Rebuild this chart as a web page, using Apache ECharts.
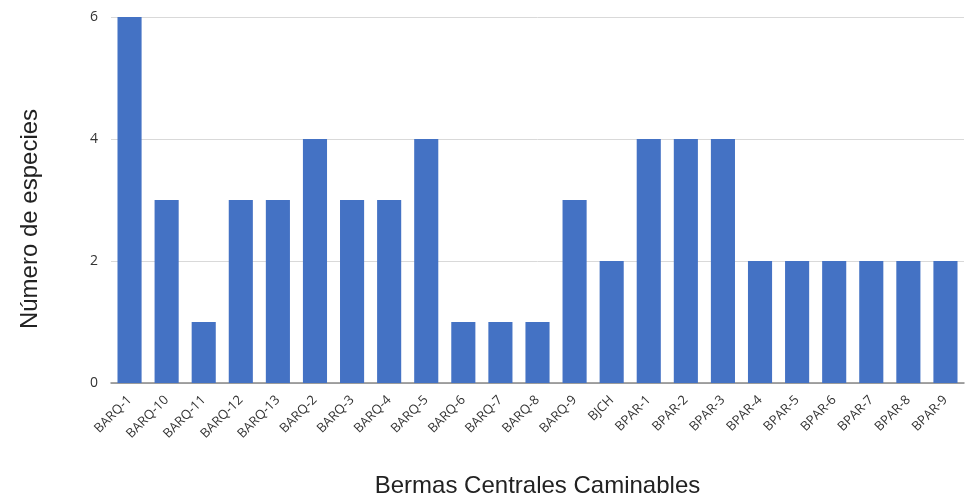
<!DOCTYPE html>
<html><head><meta charset="utf-8">
<script src="https://cdn.jsdelivr.net/npm/echarts@6/dist/echarts.min.js"></script>
<style>html,body{margin:0;padding:0;background:#fff}#c{width:968px;height:496px}</style>
</head><body><div id="c"></div>
<script>
const categories = ["BARQ-1","BARQ-10","BARQ-11","BARQ-12","BARQ-13","BARQ-2","BARQ-3","BARQ-4","BARQ-5","BARQ-6","BARQ-7","BARQ-8","BARQ-9","BJCH","BPAR-1","BPAR-2","BPAR-3","BPAR-4","BPAR-5","BPAR-6","BPAR-7","BPAR-8","BPAR-9"];
const especies = [6,3,1,3,3,4,3,3,4,1,1,1,3,2,4,4,4,2,2,2,2,2,2];
const yTicks = [0,2,4,6];
const chart = echarts.init(document.getElementById('c'));
chart.setOption({
  animation:false,
  grid:{left:111,right:4,top:17,bottom:113,outerBoundsMode:'none',containLabel:false},
  xAxis:{type:'category',data:categories,
    name:'Bermas Centrales Caminables',nameLocation:'middle',nameGap:91,
    nameTextStyle:{fontFamily:'Liberation Sans',fontSize:24,color:'#222'},
    axisTick:{show:false},
    axisLine:{lineStyle:{color:'#888',width:1.5}},
    axisLabel:{rotate:45,interval:0,fontFamily:'Open Sans',fontSize:13,color:'#333',margin:15}},
  yAxis:{type:'value',min:0,max:6,interval:2,
    name:'Número de especies',nameLocation:'middle',nameGap:69,
    nameTextStyle:{fontFamily:'Liberation Sans',fontSize:24,color:'#222',padding:[0,38,0,0]},
    axisLabel:{fontFamily:'Open Sans',fontSize:14,color:'#333',margin:13,
      formatter:v=>yTicks.includes(v)?String(v):''},
    splitLine:{lineStyle:{color:'#d9d9d9'}},
    axisLine:{show:false},axisTick:{show:false}},
  series:[{type:'bar',data:especies,barWidth:'65%',itemStyle:{color:'#4472C4'}}]
});
</script></body></html>
